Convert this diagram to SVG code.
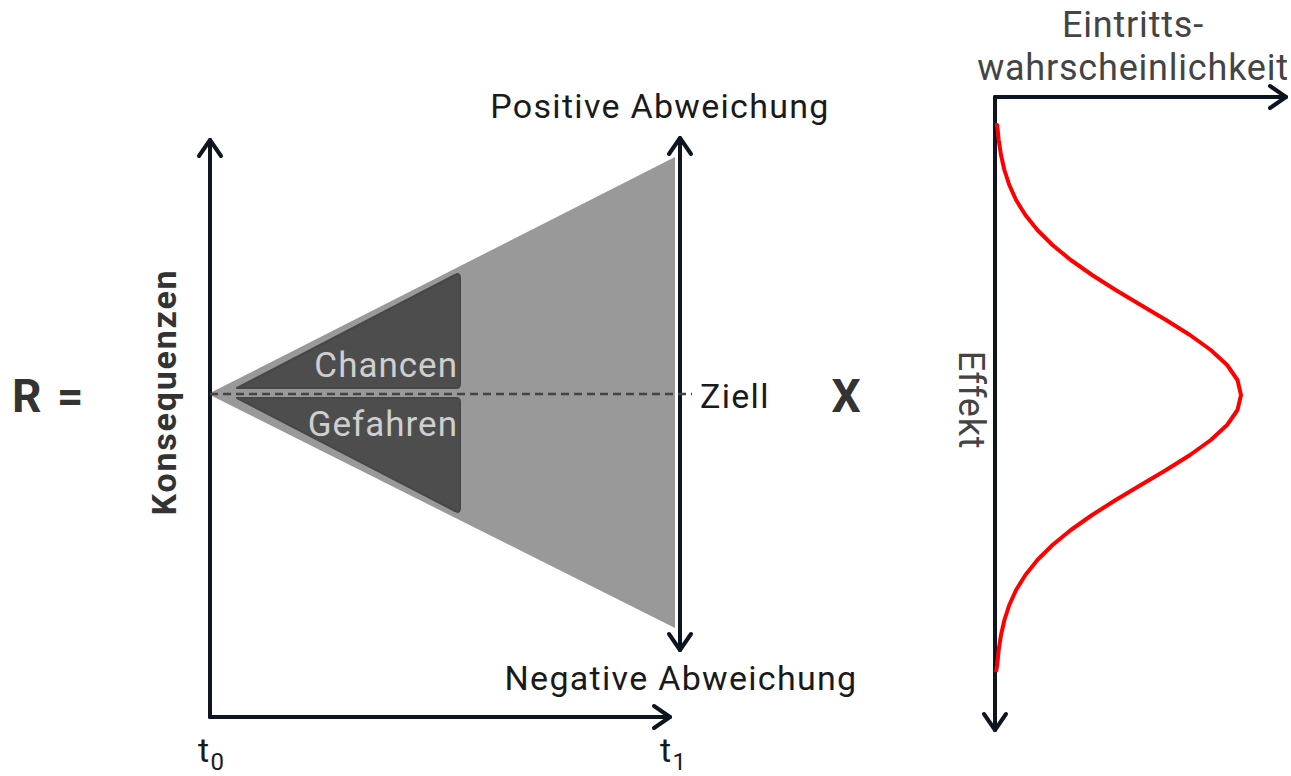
<svg xmlns="http://www.w3.org/2000/svg" width="1291" height="776" viewBox="0 0 1291 776">
<defs>
<style>
.ax{stroke:#0d1620;stroke-width:4;fill:none;stroke-linecap:round}
.ah{stroke:#0d1620;stroke-width:4;fill:none;stroke-linecap:round;stroke-linejoin:round}
.t{font-family:Roboto,"Noto Sans",sans-serif;font-size:34px;letter-spacing:1.3px;fill:#1a1a1a}
.g{font-family:Roboto,"Noto Sans",sans-serif;font-size:36px;letter-spacing:0.8px;fill:#444}
.b{font-family:Roboto,"Noto Sans",sans-serif;font-weight:bold;fill:#333}
.in{font-family:Roboto,"Noto Sans",sans-serif;font-size:35px;letter-spacing:1px;fill:#cfcfcf}
</style>
</defs>
<rect width="1291" height="776" fill="#fff"/>
<g id="outer-cone"><polygon points="208,394 675,157 675,628" fill="#999"/></g>
<g id="chancen">
<path d="M237,388 L455,275 Q460,272 460,278 L460,384 Q460,388 456,388 Z" fill="#4d4d4d" stroke="#474747" stroke-width="2" stroke-linejoin="round"/>
<text class="in" x="458" y="377" text-anchor="end">Chancen</text>
</g>
<g id="gefahren">
<path d="M237,398 L455,511 Q460,514 460,508 L460,402 Q460,398 456,398 Z" fill="#4d4d4d" stroke="#474747" stroke-width="2" stroke-linejoin="round"/>
<text class="in" x="458" y="436" text-anchor="end">Gefahren</text>
</g>
<g id="connectors">
<line class="ax" x1="210" y1="140" x2="210" y2="717"/>
<polyline class="ah" points="199,156 210,140 221,156"/>
<line class="ax" x1="210" y1="717" x2="670" y2="717"/>
<polyline class="ah" points="654,706 670,717 654,728"/>
<line class="ax" x1="680" y1="138" x2="680" y2="650"/>
<polyline class="ah" points="669,154 680,138 691,154"/>
<polyline class="ah" points="669,634 680,650 691,634"/>
<line x1="210" y1="394" x2="692" y2="394" stroke="#444" stroke-width="2.5" stroke-dasharray="8,5"/>
<line class="ax" x1="995" y1="97" x2="995" y2="730"/>
<polyline class="ah" points="984,714 995,730 1006,714"/>
<line class="ax" x1="995" y1="97" x2="1286" y2="97"/>
<polyline class="ah" points="1270,86 1286,97 1270,108"/>
<polyline fill="none" stroke="#f00" stroke-width="4" stroke-linejoin="round" points="995,125 997.2,125 998.7,140 1001,155 1004.4,170 1009.3,185 1016.1,200 1025.4,215 1037.4,230 1052.5,245 1070.8,260 1092.1,275 1115.7,290 1140.8,305 1166.1,320 1190,335 1210.8,350 1227.1,365 1237.5,380 1241,395 1237.5,410 1227.1,425 1210.8,440 1190,455 1166.1,470 1140.8,485 1115.7,500 1092.1,515 1070.8,530 1052.5,545 1037.4,560 1025.4,575 1016.1,590 1009.3,605 1004.4,620 1001,635 998.7,650 997.2,665 996,672"/>
</g>
<g id="labels">
<text class="b" x="12" y="412" font-size="46" letter-spacing="2">R =</text>
<text class="b" x="846" y="412" font-size="46" text-anchor="middle">X</text>
<text class="b" x="176" y="392" font-size="34" letter-spacing="1.8" text-anchor="middle" transform="rotate(-90 176 392)">Konsequenzen</text>
<text class="t" x="660" y="118" text-anchor="middle">Positive Abweichung</text>
<text class="t" x="681" y="690" text-anchor="middle">Negative Abweichung</text>
<text class="t" x="700" y="408">Ziell</text>
<text class="t" x="198" y="762">t<tspan font-size="24" dy="8">0</tspan></text>
<text class="t" x="660" y="762">t<tspan font-size="24" dy="8">1</tspan></text>
<text class="g" x="1133" y="37" text-anchor="middle">Eintritts-</text>
<text class="g" x="1133" y="80" text-anchor="middle">wahrscheinlichkeit</text>
<text class="g" x="959" y="400" text-anchor="middle" transform="rotate(90 959 400)">Effekt</text>
</g>
</svg>
